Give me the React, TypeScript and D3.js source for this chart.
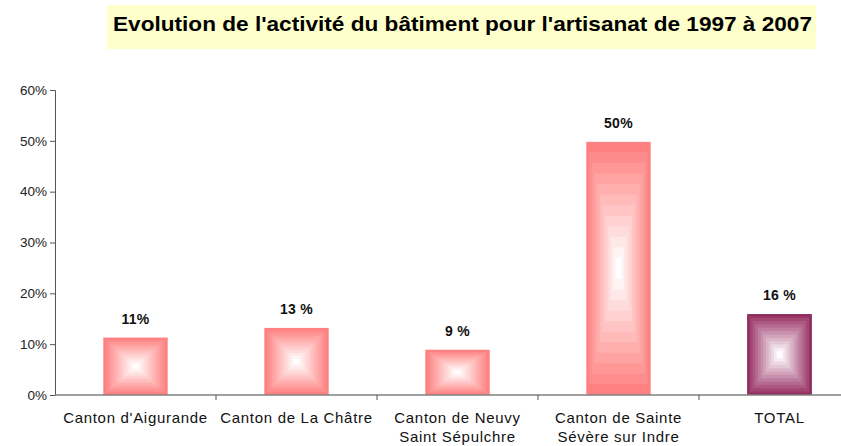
import React, { useEffect, useRef } from 'react';
import * as d3 from 'd3';

// chart data
const categories = [
  'Canton d\'Aigurande',
  'Canton de La Châtre',
  'Canton de Neuvy|Saint Sépulchre',
  'Canton de Sainte|Sévère sur Indre',
  'TOTAL',
];
const values = [0.113, 0.132, 0.089, 0.498, 0.159];
const valueLabels = ['11%', '13 %', '9 %', '50%', '16 %'];
const yTicks = [0, 0.1, 0.2, 0.3, 0.4, 0.5, 0.6];
const title = "Evolution de l'activité du bâtiment pour l'artisanat de 1997 à 2007";

const W = 841;
const H = 446;
const FONT = "'Liberation Sans', Arial, Helvetica, sans-serif";

const App = () => {
  const svgRef = useRef(null);

  useEffect(() => {
    const svg = d3.select(svgRef.current);
    svg.selectAll('*').remove();

    const left = 55;
    const right = 860;
    const top = 90;
    const bottom = 395;

    const x = d3.scaleBand().domain(categories).range([left, right]).padding(0);
    const y = d3.scaleLinear().domain([0, 0.6]).range([bottom, top]);

    // title box
    svg.append('rect')
      .attr('x', 107).attr('y', 5)
      .attr('width', 709).attr('height', 44)
      .attr('fill', '#FFFFCC');
    svg.append('text')
      .attr('x', 113).attr('y', 31)
      .attr('textLength', 699)
      .attr('lengthAdjust', 'spacingAndGlyphs')
      .style('font-family', FONT)
      .style('font-weight', 'bold')
      .style('font-size', '21px')
      .attr('fill', '#000')
      .text(title);

    // bars with a "from center" stepped gradient
    const steps = 12;
    const g = svg.append('g');
    categories.forEach((c, i) => {
      const bw = x.bandwidth() * 0.4;
      const bx = x(c) + (x.bandwidth() - bw) / 2;
      const by = y(values[i]);
      const bh = y(0) - by;
      const edge = c === 'TOTAL' ? '#993366' : '#FF8080';
      const interp = d3.interpolateRgb(edge, '#ffffff');
      for (let s = 0; s < steps; s++) {
        const t = s / steps;
        g.append('rect')
          .attr('x', bx + (t * bw) / 2)
          .attr('y', by + (t * bh) / 2)
          .attr('width', bw * (1 - t))
          .attr('height', bh * (1 - t))
          .attr('fill', interp(s / (steps - 1)));
      }
      if (c === 'TOTAL') {
        g.append('rect')
          .attr('x', bx + 0.75).attr('y', by + 0.75)
          .attr('width', bw - 1.5).attr('height', bh - 1.5)
          .attr('fill', 'none')
          .attr('stroke', '#8a2f5c')
          .attr('stroke-width', 1.5);
      }

      // value label
      g.append('text')
        .attr('x', bx + bw / 2)
        .attr('y', by - 14)
        .attr('text-anchor', 'middle')
        .style('font-family', FONT)
        .style('font-weight', 'bold')
        .style('font-size', '14px')
        .style('letter-spacing', '0.3px')
        .attr('fill', '#111')
        .text(valueLabels[i]);
    });

    // y axis
    const yAxis = svg.append('g')
      .attr('transform', `translate(${left},0)`)
      .call(d3.axisLeft(y).tickValues(yTicks).tickFormat(d3.format('.0%')).tickSize(5).tickPadding(3));
    yAxis.select('.domain').attr('stroke', '#555');
    yAxis.selectAll('.tick line').attr('stroke', '#555');
    yAxis.selectAll('text')
      .style('font-family', FONT)
      .style('font-size', '13.5px')
      .attr('fill', '#222');

    // x axis
    svg.append('line')
      .attr('x1', left).attr('x2', W)
      .attr('y1', y(0)).attr('y2', y(0))
      .attr('stroke', '#808080').attr('stroke-width', 1.5);
    categories.slice(1).forEach((c) => {
      svg.append('line')
        .attr('x1', x(c)).attr('x2', x(c))
        .attr('y1', y(0)).attr('y2', y(0) + 5)
        .attr('stroke', '#555');
    });
    categories.forEach((c) => {
      const lines = c.split('|');
      const t = svg.append('text')
        .attr('text-anchor', 'middle')
        .style('font-family', FONT)
        .style('font-size', '15px')
        .style('letter-spacing', '0.7px')
        .attr('fill', '#111');
      lines.forEach((l, k) => {
        t.append('tspan')
          .attr('x', x(c) + x.bandwidth() / 2)
          .attr('y', 423 + k * 19)
          .text(l);
      });
    });
  }, []);

  return (
    <svg
      ref={svgRef}
      width={W}
      height={H}
      style={{ position: 'absolute', left: 0, top: 0, background: '#fff' }}
    />
  );
};

export default App;
